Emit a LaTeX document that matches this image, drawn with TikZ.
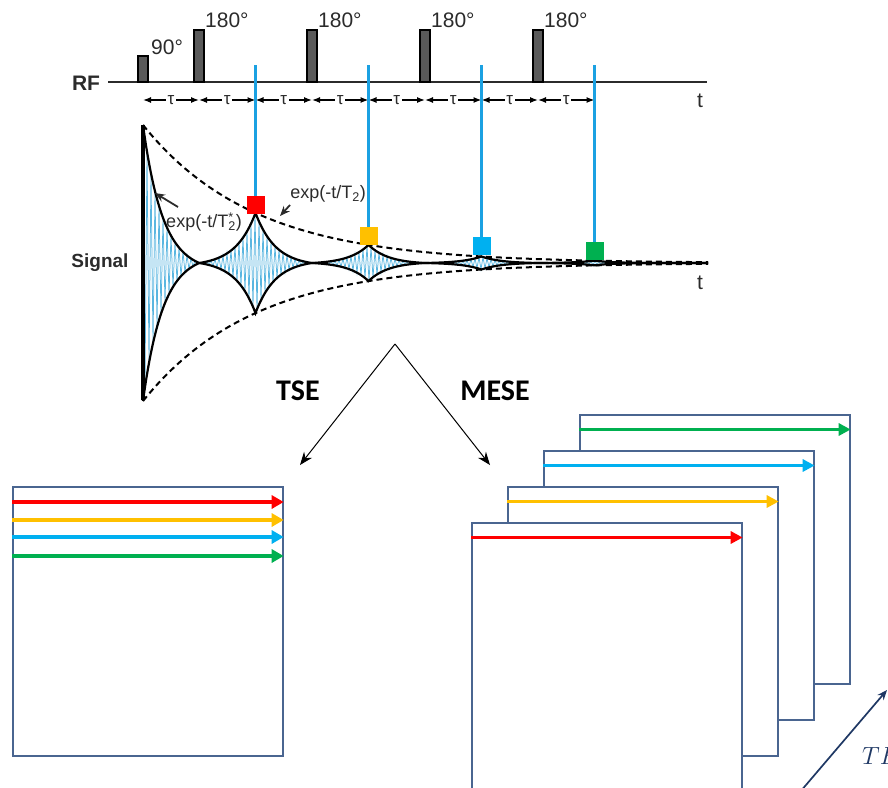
\documentclass[tikz,border=0pt]{standalone}
\usepackage{fontspec}
\setmainfont{Liberation Sans}
\newfontfamily\calfont{Carlito}
\usetikzlibrary{arrows.meta}
\definecolor{skgray}{HTML}{2B2B2B}
\definecolor{pulsegray}{HTML}{5A5A5A}
\definecolor{echoblue}{HTML}{1BA1E2}
\definecolor{hatchblue}{HTML}{5AB6E0}
\definecolor{ered}{HTML}{FF0000}
\definecolor{eyellow}{HTML}{FFC000}
\definecolor{eblue}{HTML}{00B0F0}
\definecolor{egreen}{HTML}{00B050}
\definecolor{frameblue}{HTML}{4A6590}
\definecolor{tenavy}{HTML}{1F3864}
\tikzset{
  axisline/.style={line width=2.2pt, draw=skgray},
  pulse/.style={line width=1.4pt, draw=black, fill=pulsegray},
  tauline/.style={{Latex[length=8pt,width=6pt]}-{Latex[length=8pt,width=6pt]}, line width=1.3pt, draw=black},
  taulabel/.style={fill=white, inner sep=1.5pt, font=\fontsize{17}{18}\selectfont, text=skgray},
  echoline/.style={line width=2.4pt, draw=echoblue},
  echobox/.style={minimum size=18pt, inner sep=0pt},
  envelope/.style={line width=2.2pt, draw=black},
  decay/.style={line width=2pt, draw=black, dash pattern=on 6pt off 4pt},
  lbl/.style={inner sep=0pt, font=\fontsize{21}{23}\selectfont, text=skgray},
  pointer/.style={-{Stealth[length=10pt,width=8pt]}, line width=1.8pt, draw=skgray},
  splitarrow/.style={-{Stealth[length=13pt,width=10pt]}, line width=1pt, draw=black},
  seqlabel/.style={font=\calfont\bfseries\fontsize{30}{32}\selectfont},
  kspace/.style={draw=frameblue, line width=1.7pt, fill=white, minimum width=270pt,
    minimum height=269pt, inner sep=0pt, anchor=north west},
  lineread/.style={line width=4.8pt, -{Triangle[length=12pt,width=13pt]}},
  lineecho/.style={line width=3.8pt, -{Triangle[length=12pt,width=12pt]}},
  tearrow/.style={-{Stealth[length=10pt,width=8pt]}, line width=1.7pt, draw=tenavy},
}

\begin{document}
\begin{tikzpicture}[x=1pt, y=-1pt,
  declare function={lobe(\u)=max(0,(exp(-min(abs(\u),200)/20)-0.06)/0.94);
    env(\u)=138*lobe(\u-143)+50.1*lobe(\u-255.5)+18.1*lobe(\u-368.5)
      +6.5*lobe(\u-481.5)+2.36*lobe(\u-594.5);}]
  \useasboundingbox (0,0) rectangle (888,787);
  % RF line with pulses
  \node[lbl, font=\bfseries\fontsize{21}{23}\selectfont] (rf) at (86,83) {RF};
  \coordinate (rfstart) at (108,82);
  \coordinate (rfend) at (707,82);
  \draw[axisline] (rfstart) -- (rfend);
  \node[lbl] (trf) at (700,101) {t};
  \draw[pulse] (138,82) rectangle (148,56);
  \node[lbl, anchor=west] (deg90) at (151,47) {90°};
  \foreach \x in {199,312,425,538}{
    \draw[pulse] (\x-5,82) rectangle (\x+5,30);
    \node[lbl, anchor=west] (deg\x) at (\x+6,20) {180°};
  }
  % tau spacing
  \foreach \a/\b [count=\i] in {143/199,199/255.5,255.5/312,312/368.5,
      368.5/425,425/481.5,481.5/538,538/594.5}{
    \draw[tauline] (\a,100) -- (\b,100) node[taulabel, midway] (tau\i) {τ};
  }
  % signal: FID and echoes
  \draw[hatchblue, line width=0.75pt] plot[domain=143:621, samples=240]
    (\x,{263-env(\x)*cos(90*mod(round(\x-143),4))});
  \draw[envelope] plot[domain=143:708, samples=1131] (\x,{263-env(\x)});
  \draw[envelope] plot[domain=143:708, samples=1131] (\x,{263+env(\x)});
  \draw[decay] plot[domain=143:708, samples=120] (\x,{263-138*exp(-(\x-143)/111)});
  \draw[decay] plot[domain=143:708, samples=120] (\x,{263+138*exp(-(\x-143)/111)});
  \draw[line width=3.2pt] (143,125) -- (143,400);
  \node[lbl, font=\bfseries\fontsize{19}{21}\selectfont] (signal) at (100,263) {Signal};
  \node[lbl] (tsig) at (700,283) {t};
  % echo markers
  \foreach \x/\y/\c [count=\i] in {255.5/205/ered,368.5/236/eyellow,
      481.5/246/eblue,594.5/251/egreen}{
    \node[echobox, fill=\c] (echo\i) at (\x,\y) {};
    \coordinate (rfmark\i) at (\x,65);
    \draw[echoline] (rfmark\i) -- (echo\i.north);
  }
  % decay labels
  \node[lbl, font=\fontsize{18}{20}\selectfont] (t2star) at (204,222)
    {exp(-t/T\rlap{\textsuperscript{*}}\textsubscript{2})};
  \node[lbl, font=\fontsize{18}{20}\selectfont] (t2) at (328,194) {exp(-t/T\textsubscript{2})};
  \coordinate (t2startail) at (178,207);
  \coordinate (t2starhead) at (155,193);
  \coordinate (t2tail) at (290,205);
  \coordinate (t2head) at (280,216);
  \draw[pointer] (t2startail) -- (t2starhead);
  \draw[pointer] (t2tail) -- (t2head);
  % split into TSE and MESE
  \coordinate (split) at (395,344);
  \coordinate (tsein) at (300,465);
  \coordinate (mesein) at (490,465);
  \draw[splitarrow] (split) -- (tsein);
  \draw[splitarrow] (split) -- (mesein);
  \node[seqlabel] (tse) at (298,391) {TSE};
  \node[seqlabel] (mese) at (495,391) {MESE};
  % TSE k-space
  \node[kspace] (tsek) at (12,486) {};
  \foreach \dy/\c in {16/ered,34/eyellow,51/eblue,70/egreen}{
    \draw[lineread, \c] ([yshift=-\dy pt]tsek.north west) -- ([yshift=-\dy pt]tsek.north east);
  }
  % MESE k-spaces, one per echo
  \foreach \i/\c in {3/egreen,2/eblue,1/eyellow,0/ered}{
    \node[kspace] (mesek\i) at (471+36*\i,522-36*\i) {};
    \draw[lineecho, \c] ([yshift=-15.5pt]mesek\i.north west) -- ([yshift=-15.5pt]mesek\i.north east);
  }
  % echo time axis
  \coordinate (tefoot) at (800,792);
  \coordinate (tehead) at (887,690);
  \draw[tearrow] (tefoot) -- (tehead);
  \node[font=\fontsize{23}{25}\selectfont, text=tenavy, anchor=west, inner sep=0pt] (te) at (862,756) {$TE$};
\end{tikzpicture}
\end{document}
